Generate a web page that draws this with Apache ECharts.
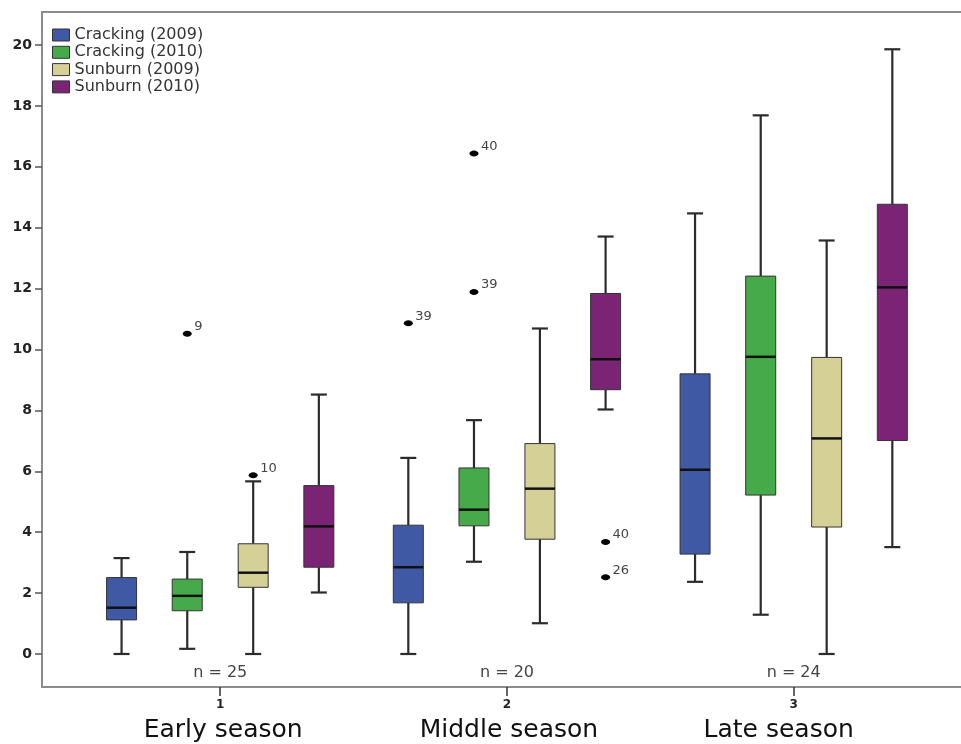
<!DOCTYPE html>
<html>
<head>
<meta charset="utf-8">
<script src="https://cdn.jsdelivr.net/npm/echarts@6/dist/echarts.min.js"></script>
<style>
html,body{margin:0;padding:0;background:#fff;}
#chart{width:961px;height:744px;}
</style>
</head>
<body>
<div id="chart"></div>
<script>
// ---- data ----
const groupValues = [1, 2, 3];
const seasons = ['Early season', 'Middle season', 'Late season'];
const nCounts = [25, 20, 24];
const seriesNames = ['Cracking (2009)', 'Cracking (2010)', 'Sunburn (2009)', 'Sunburn (2010)'];
const yTicks = [0, 2, 4, 6, 8, 10, 12, 14, 16, 18, 20];

// [min, Q1, median, Q3, max] per season
const cracking2009 = [[0, 1.12, 1.52, 2.51, 3.15], [0, 1.68, 2.85, 4.23, 6.44], [2.37, 3.28, 6.05, 9.20, 14.47]];
const cracking2010 = [[0.17, 1.42, 1.91, 2.46, 3.35], [3.03, 4.21, 4.74, 6.11, 7.68], [1.29, 5.22, 9.76, 12.41, 17.69]];
const sunburn2009 = [[0, 2.19, 2.67, 3.62, 5.67], [1.01, 3.77, 5.43, 6.91, 10.69], [0, 4.17, 7.08, 9.74, 13.58]];
const sunburn2010 = [[2.02, 2.85, 4.19, 5.53, 8.52], [8.03, 8.68, 9.68, 11.84, 13.71], [3.51, 7.01, 12.04, 14.77, 19.86]];

// outliers: [season, value, case label]
const cracking2009Out = [[2, 10.86, '39']];
const cracking2010Out = [[1, 10.52, '9'], [2, 16.44, '40'], [2, 11.89, '39']];
const sunburn2009Out = [[1, 5.87, '10']];
const sunburn2010Out = [[2, 3.68, '40'], [2, 2.52, '26']];

// ---- styles ----
const colors = ['#3F59A5', '#46AA4A', '#D5D196', '#7B2475'];
const offsets = [-0.344, -0.115, 0.115, 0.344]; // fraction of category spacing
const BOX_W = 30, CAP_W = 16;
const frameColor = '#8c8c8c';
const nameShiftPad = [[0, 0, 0, 6], [0, 0, 0, 4], [0, 30, 0, 0]]; // small horizontal nudges of season names

const boxData = [cracking2009, cracking2010, sunburn2009, sunburn2010];
const outData = [cracking2009Out, cracking2010Out, sunburn2009Out, sunburn2010Out];

function boxRender(si) {
  return function (params, api) {
    const c = api.value(0);
    const mn = api.value(1), q1 = api.value(2), md = api.value(3), q3 = api.value(4), mx = api.value(5);
    const unit = api.size([1, 0])[0];
    const cx = api.coord([c, 0])[0] + offsets[si] * unit;
    const y = v => api.coord([c, v])[1];
    const h = BOX_W / 2, ch = CAP_W / 2;
    const wStyle = { stroke: '#2b2b2b', lineWidth: 2.2 };
    return {
      type: 'group',
      children: [
        { type: 'line', shape: { x1: cx, y1: y(q3), x2: cx, y2: y(mx) }, style: wStyle },
        { type: 'line', shape: { x1: cx, y1: y(q1), x2: cx, y2: y(mn) }, style: wStyle },
        { type: 'line', shape: { x1: cx - ch, y1: y(mx), x2: cx + ch, y2: y(mx) }, style: wStyle },
        { type: 'line', shape: { x1: cx - ch, y1: y(mn), x2: cx + ch, y2: y(mn) }, style: wStyle },
        { type: 'rect', shape: { x: cx - h, y: y(q3), width: BOX_W, height: y(q1) - y(q3) },
          style: { fill: colors[si], stroke: '#333', lineWidth: 1 } },
        { type: 'line', shape: { x1: cx - h, y1: y(md), x2: cx + h, y2: y(md) }, style: { stroke: '#111', lineWidth: 2.5 } }
      ]
    };
  };
}

const outlierRows = [];
outData.forEach((arr, si) => arr.forEach(o => outlierRows.push([o[0], si, o[1], o[2]])));

const series = boxData.map((arr, si) => ({
  name: seriesNames[si],
  type: 'custom',
  itemStyle: { color: colors[si], borderColor: '#333', borderWidth: 1 },
  encode: { x: 0, y: [1, 2, 3, 4, 5] },
  data: arr.map((v, gi) => [groupValues[gi]].concat(v)),
  renderItem: boxRender(si),
  silent: true
}));

series.push({
  type: 'custom',
  encode: { x: 0, y: 2 },
  data: outlierRows.map(r => [r[0], r[1], r[2]]),
  renderItem: function (params, api) {
    const row = outlierRows[params.dataIndex];
    const unit = api.size([1, 0])[0];
    const p = api.coord([row[0], row[2]]);
    const cx = p[0] + offsets[row[1]] * unit;
    return {
      type: 'group',
      children: [
        { type: 'ellipse', shape: { cx: cx, cy: p[1], rx: 4.5, ry: 3 }, style: { fill: '#000' } },
        { type: 'text', x: cx + 7, y: p[1] - 7,
          style: { text: row[3], fill: '#444', font: '13px "DejaVu Sans"', align: 'left', verticalAlign: 'middle' } }
      ]
    };
  },
  silent: true
});

series.push({
  type: 'custom',
  encode: { x: 0, y: 1 },
  data: nCounts.map((n, i) => [groupValues[i], 0, n]),
  renderItem: function (params, api) {
    const p = api.coord([api.value(0), 0]);
    return {
      type: 'text', x: p[0], y: p[1] + 19,
      style: { text: 'n = ' + api.value(2), fill: '#444', font: '16px "DejaVu Sans"', align: 'center', verticalAlign: 'middle' }
    };
  },
  silent: true
});

const nameRich = {};
nameShiftPad.forEach((pad, i) => {
  nameRich['name' + i] = { fontFamily: 'DejaVu Sans', fontSize: 25, color: '#111', lineHeight: 36, padding: pad };
});

const chart = echarts.init(document.getElementById('chart'));
chart.setOption({
  animation: false,
  backgroundColor: '#fff',
  grid: { left: 42, right: 0, top: 12, bottom: 57 },
  legend: {
    data: seriesNames,
    orient: 'vertical',
    left: 52, top: 27,
    icon: 'rect',
    itemWidth: 17, itemHeight: 12, itemGap: 1.3,
    padding: 0,
    itemStyle: { borderColor: '#333', borderWidth: 1 },
    textStyle: { fontFamily: 'DejaVu Sans', fontSize: 16, lineHeight: 16, color: '#333' }
  },
  xAxis: [{
    type: 'value',
    min: 0.3785, max: 3.5835,
    splitLine: { show: false },
    axisLine: { show: true, onZero: false, lineStyle: { color: frameColor, width: 2 } },
    axisTick: { show: true, customValues: groupValues, length: 9, lineStyle: { color: '#333', width: 1.5 } },
    axisLabel: {
      customValues: groupValues,
      margin: 11,
      formatter: v => '{num|' + v + '}\n{name' + (v - 1) + '|' + seasons[v - 1] + '}',
      rich: Object.assign({
        num: { fontFamily: 'DejaVu Sans', fontSize: 12, fontWeight: 'bold', color: '#222', lineHeight: 14 }
      }, nameRich)
    }
  }, {
    type: 'value', position: 'top',
    min: 0.3785, max: 3.5835,
    splitLine: { show: false },
    axisLine: { show: true, onZero: false, lineStyle: { color: frameColor, width: 2 } },
    axisTick: { show: false },
    axisLabel: { show: false }
  }],
  yAxis: {
    type: 'value',
    min: -1.084, max: 21.084,
    splitLine: { show: false },
    axisLine: { show: true, onZero: false, lineStyle: { color: frameColor, width: 2 } },
    axisTick: { show: true, customValues: yTicks, length: 7, lineStyle: { color: '#555', width: 1.5 } },
    axisLabel: { customValues: yTicks, margin: 10, fontFamily: 'DejaVu Sans', fontSize: 14, fontWeight: 'bold', color: '#222' }
  },
  series: series
});
</script>
</body>
</html>
